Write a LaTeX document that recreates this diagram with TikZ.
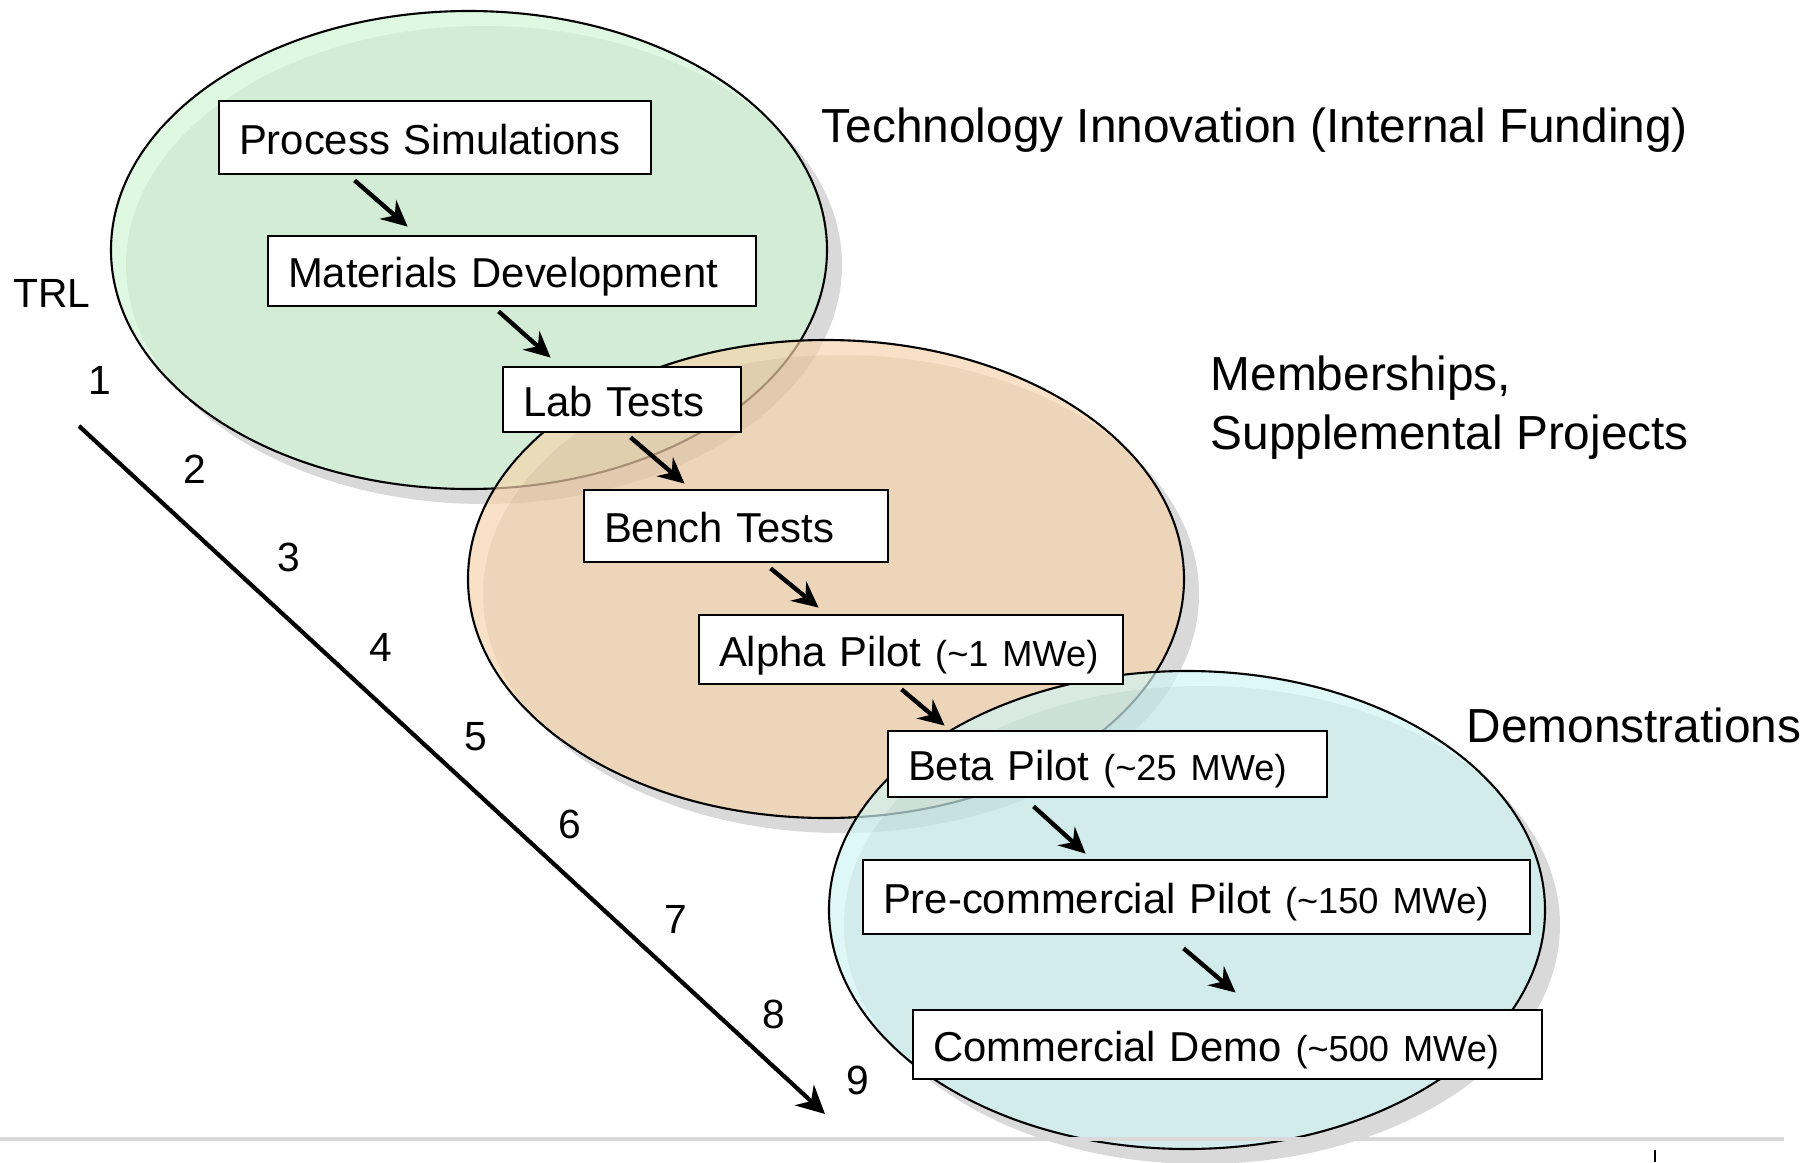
\documentclass[tikz,border=0pt]{standalone}
\usepackage{fontspec}
\setmainfont{Liberation Sans}
\usetikzlibrary{positioning,arrows.meta}
\usepackage{xcolor}

\definecolor{innovgreen}{RGB}{208,245,211}
\definecolor{memborange}{RGB}{246,211,172}
\definecolor{demoblue}{RGB}{207,245,245}

\newcommand{\mwe}[1]{{\fontsize{10.3}{12}\selectfont (\textasciitilde#1 MWe)}}

\begin{document}
\begin{tikzpicture}[%
            stage/.style={draw=black, line width=0.6pt, fill opacity=0.68},
            stageshadow/.style={fill=black, fill opacity=0.15},
            box/.style={draw, fill=white, line width=0.8pt, inner xsep=0.2cm, inner ysep=0pt,
                        text height=9.6pt, text depth=0pt,
                        align=left, font=\fontsize{11.9}{14.5}\selectfont},
            arrow/.style={-{Stealth[length=2.6mm,width=2.5mm,inset=0.9mm]}, line width=1.25pt},
            header/.style={inner sep=0pt, font=\fontsize{13.6}{16.8}\selectfont},
            trl/.style={inner sep=0pt, font=\fontsize{11.6}{14}\selectfont}
        ]

        \useasboundingbox (0,0) rectangle (18.06,11.62);

        % Stage ellipses (shadow, then see-through fill)
        \fill[stageshadow] (4.84,8.97) ellipse (3.58 and 2.39);
        \draw[stage, fill=innovgreen] (4.69,9.12) ellipse (3.58 and 2.39);

        \fill[stageshadow] (8.41,5.68) ellipse (3.58 and 2.39);
        \draw[stage, fill=memborange] (8.26,5.83) ellipse (3.58 and 2.39);

        \fill[stageshadow] (12.02,2.37) ellipse (3.58 and 2.39);
        \draw[stage, fill=demoblue] (11.87,2.52) ellipse (3.58 and 2.39);

        % Slide footer line
        \draw[black!15, line width=0.9pt] (0,0.23) -- (17.84,0.23);
        \draw[line width=0.5pt] (16.55,0.12) -- (16.55,0);

        % Stage titles
        \node[header, anchor=base west] (innov) at (8.21,10.20) {Technology Innovation (Internal Funding)};
        \node[header, anchor=north west, align=left] (memb) at (12.10,8.07) {Memberships,\\Supplemental Projects};
        \node[header, anchor=base west] (demos) at (14.66,4.20) {Demonstrations};

        % Process steps
        \node[box, text width=3.92cm, minimum height=0.73cm] (ps) at (4.35,10.245) {Process Simulations};
        \node[box, text width=4.48cm, minimum height=0.70cm] (md) at (5.12,8.91) {Materials Development};
        \node[box, text width=1.98cm, minimum height=0.65cm] (lab) at (6.22,7.625) {Lab Tests};
        \node[box, text width=2.64cm, minimum height=0.72cm] (bench) at (7.36,6.36) {Bench Tests};
        \node[box, text width=3.84cm, minimum height=0.69cm] (alpha) at (9.11,5.125) {\mbox{Alpha Pilot \mwe{1}}};
        \node[box, text width=3.99cm, minimum height=0.66cm] (beta) at (11.075,3.98) {Beta Pilot \mwe{25}};
        \node[box, text width=6.27cm, minimum height=0.74cm] (precom) at (11.965,2.65) {Pre-commercial Pilot \mwe{150}};
        \node[box, text width=5.89cm, minimum height=0.69cm] (demo) at (12.275,1.175) {Commercial Demo \mwe{500}};

        % Step arrows
        \draw[arrow] ([xshift=1.37cm,yshift=-0.05cm]ps.south west) -- ([xshift=1.41cm,yshift=0.08cm]md.north west);
        \draw[arrow] ([xshift=2.32cm,yshift=-0.04cm]md.south west) -- ([xshift=0.49cm,yshift=0.08cm]lab.north west);
        \draw[arrow] ([xshift=1.29cm,yshift=-0.04cm]lab.south west) -- ([xshift=1.02cm,yshift=0.05cm]bench.north west);
        \draw[arrow] ([xshift=1.88cm,yshift=-0.05cm]bench.south west) -- ([xshift=1.21cm,yshift=0.06cm]alpha.north west);
        \draw[arrow] ([xshift=2.04cm,yshift=-0.04cm]alpha.south west) -- ([xshift=0.58cm,yshift=0.04cm]beta.north west);
        \draw[arrow] ([xshift=1.47cm,yshift=-0.08cm]beta.south west) -- ([xshift=2.24cm,yshift=0.05cm]precom.north west);
        \draw[arrow] ([xshift=3.22cm,yshift=-0.13cm]precom.south west) -- ([xshift=3.24cm,yshift=0.16cm]demo.north west);

        % TRL scale
        \node[trl] (trl) at (0.52,8.685) {TRL};
        \node[trl] (trl1) at (1.00,7.82) {1};
        \node[trl] (trl2) at (1.95,6.93) {2};
        \node[trl] (trl3) at (2.89,6.05) {3};
        \node[trl] (trl4) at (3.81,5.15) {4};
        \node[trl] (trl5) at (4.76,4.25) {5};
        \node[trl] (trl6) at (5.70,3.38) {6};
        \node[trl] (trl7) at (6.76,2.43) {7};
        \node[trl] (trl8) at (7.74,1.48) {8};
        \node[trl] (trl9) at (8.58,0.82) {9};

        \coordinate (trltop) at (0.79,7.36);
        \coordinate (trlbottom) at (8.25,0.48);
        \draw[-{Stealth[length=2.8mm,width=2.8mm,inset=0.9mm]}, line width=1.2pt] (trltop) -- (trlbottom);

        \end{tikzpicture}
\end{document}
